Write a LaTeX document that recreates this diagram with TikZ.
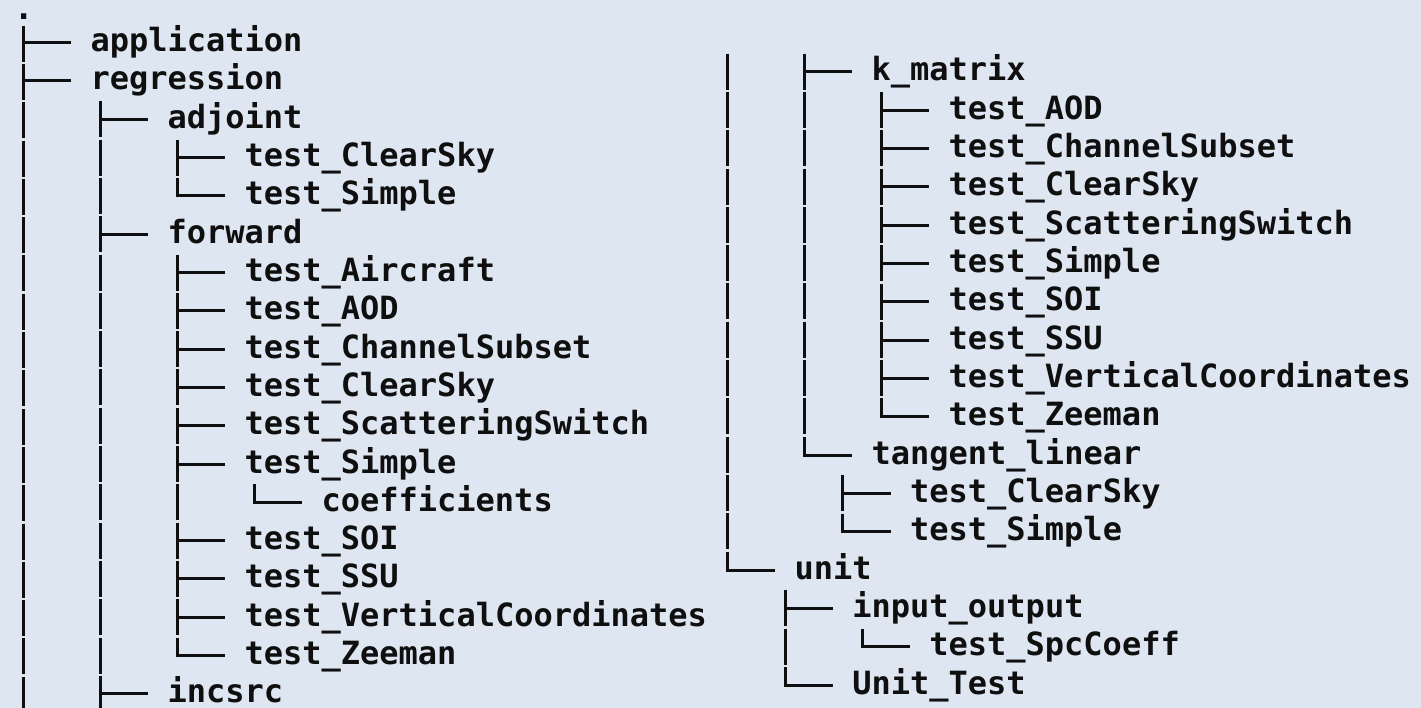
\documentclass[tikz,border=0pt]{standalone}
\usepackage{fontspec}
\newfontfamily\treefont{DejaVu Sans Mono}
\definecolor{bgc}{RGB}{221,230,241}
\definecolor{ink}{RGB}{15,15,15}
\begin{document}
\begin{tikzpicture}[x=1pt,y=-1pt,
  lbl/.style={anchor=west, inner sep=0pt, text height=20.5pt, text depth=2.5pt, text=ink,
    font=\treefont\bfseries\fontsize{32}{38}\selectfont},
  treeline/.style={line width=2.8pt, draw=ink},
  vbar/.style={treeline, dash pattern=on 36pt off 2.3pt, dash phase=37.15pt, shorten >=-1.4pt},
]
\fill[bgc] (0,0) rectangle (1421,708);
\useasboundingbox (0,0) rectangle (1421,708);

% ---------------- left column ----------------
\node[lbl, anchor=base west, text height=, text depth=] (root) at (13.9,19.5) {.};
\node[lbl] (app) at (90.4,42.5) {application};
\node[lbl] (reg) at (90.4,80.5) {regression};
\node[lbl] (adj) at (167.4,119.5) {adjoint};
\node[lbl] (adjCS) at (244.4,157.5) {test\_ClearSky};
\node[lbl] (adjS) at (244.4,195.5) {test\_Simple};
\node[lbl] (fwd) at (167.4,234.5) {forward};
\node[lbl] (fAir) at (244.4,272.5) {test\_Aircraft};
\node[lbl] (fAOD) at (244.4,310.5) {test\_AOD};
\node[lbl] (fCh) at (244.4,349.5) {test\_ChannelSubset};
\node[lbl] (fCS) at (244.4,387.5) {test\_ClearSky};
\node[lbl] (fSc) at (244.4,425.5) {test\_ScatteringSwitch};
\node[lbl] (fSi) at (244.4,464.5) {test\_Simple};
\node[lbl] (coef) at (321.4,502.5) {coefficients};
\node[lbl] (fSOI) at (244.4,540.5) {test\_SOI};
\node[lbl] (fSSU) at (244.4,578.5) {test\_SSU};
\node[lbl] (fVC) at (244.4,617.5) {test\_VerticalCoordinates};
\node[lbl] (fZ) at (244.4,655.5) {test\_Zeeman};
\node[lbl] (inc) at (167.4,693.5) {incsrc};

\coordinate (bRoot) at (23.5,24.5);
\coordinate (eRoot) at (23.5,708);
\coordinate (bReg) at (100.5,100.2);
\coordinate (eReg) at (100.5,708);
\coordinate (bAdj) at (177.5,138.5);
\coordinate (bFwd) at (177.5,253.4);
\coordinate (bSi) at (254.5,483.2);

\draw[vbar] (bRoot) -- (eRoot);
\draw[vbar] (bReg) -- (eReg);
\draw[vbar] (bAdj) -- (bAdj |- adjS.west);
\draw[vbar] (bFwd) -- (bFwd |- fZ.west);
\draw[vbar] (bSi) -- (bSi |- coef.west);

\foreach \n in {app,reg} \draw[treeline] (bRoot |- \n.west) -- ([xshift=-19.25pt]\n.west);
\foreach \n in {adj,fwd,inc} \draw[treeline] (bReg |- \n.west) -- ([xshift=-19.25pt]\n.west);
\foreach \n in {adjCS,adjS} \draw[treeline] (bAdj |- \n.west) -- ([xshift=-19.25pt]\n.west);
\foreach \n in {fAir,fAOD,fCh,fCS,fSc,fSi,fSOI,fSSU,fVC,fZ} \draw[treeline] (bFwd |- \n.west) -- ([xshift=-19.25pt]\n.west);
\draw[treeline] (bSi |- coef.west) -- ([xshift=-19.25pt]coef.west);

% ---------------- right column ----------------
\node[lbl] (kmat) at (871.4,71.5) {k\_matrix};
\node[lbl] (kAOD) at (948.4,110.5) {test\_AOD};
\node[lbl] (kCh) at (948.4,148.5) {test\_ChannelSubset};
\node[lbl] (kCS) at (948.4,186.5) {test\_ClearSky};
\node[lbl] (kSc) at (948.4,225.5) {test\_ScatteringSwitch};
\node[lbl] (kSi) at (948.4,263.5) {test\_Simple};
\node[lbl] (kSOI) at (948.4,301.5) {test\_SOI};
\node[lbl] (kSSU) at (948.4,340.5) {test\_SSU};
\node[lbl] (kVC) at (948.4,378.5) {test\_VerticalCoordinates};
\node[lbl] (kZ) at (948.4,416.5) {test\_Zeeman};
\node[lbl] (tl) at (871.4,455.5) {tangent\_linear};
\node[lbl] (tlCS) at (909.9,493.5) {test\_ClearSky};
\node[lbl] (tlS) at (909.9,531.5) {test\_Simple};
\node[lbl] (unit) at (794.4,570.5) {unit};
\node[lbl] (io) at (852.15,608.5) {input\_output};
\node[lbl] (spc) at (929.15,646.5) {test\_SpcCoeff};
\node[lbl] (ut) at (852.15,685.5) {Unit\_Test};

\coordinate (bR0) at (727.5,52.5);
\coordinate (bR4) at (804.5,52.5);
\coordinate (bK) at (881.5,90.9);
\coordinate (bTl) at (842.5,474.2);
\coordinate (bU) at (785.5,589.2);
\coordinate (bIo) at (862.5,627.6);

\draw[vbar] (bR0) -- (bR0 |- unit.west);
\draw[vbar] (bR4) -- (bR4 |- tl.west);
\draw[vbar] (bK) -- (bK |- kZ.west);
\draw[vbar] (bTl) -- (bTl |- tlS.west);
\draw[vbar] (bU) -- (bU |- ut.west);
\draw[vbar] (bIo) -- (bIo |- spc.west);

\draw[treeline] (bR0 |- unit.west) -- ([xshift=-19.25pt]unit.west);
\foreach \n in {kmat,tl} \draw[treeline] (bR4 |- \n.west) -- ([xshift=-19.25pt]\n.west);
\foreach \n in {kAOD,kCh,kCS,kSc,kSi,kSOI,kSSU,kVC,kZ} \draw[treeline] (bK |- \n.west) -- ([xshift=-19.25pt]\n.west);
\foreach \n in {tlCS,tlS} \draw[treeline] (bTl |- \n.west) -- ([xshift=-19.25pt]\n.west);
\foreach \n in {io,ut} \draw[treeline] (bU |- \n.west) -- ([xshift=-19.25pt]\n.west);
\draw[treeline] (bIo |- spc.west) -- ([xshift=-19.25pt]spc.west);
\end{tikzpicture}
\end{document}
